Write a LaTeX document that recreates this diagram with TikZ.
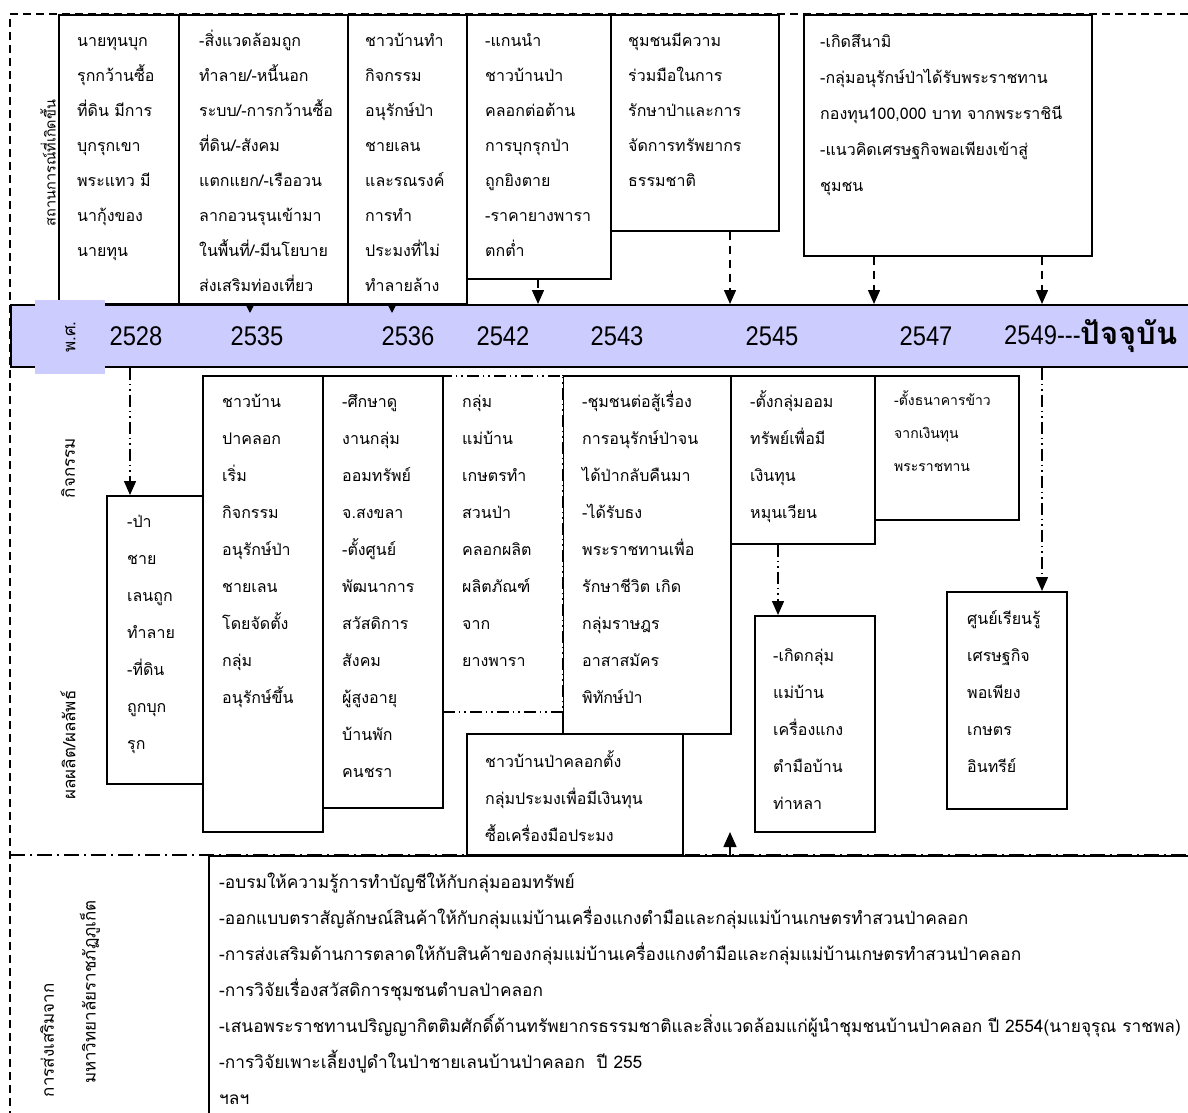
\documentclass[tikz,border=0pt]{standalone}
\usepackage{graphicx}
\usepackage{fontspec}
\setmainfont{Loma}[Script=Thai]
\newfontfamily\numfont{Liberation Sans}
\usetikzlibrary{arrows.meta,calc}
\definecolor{bandc}{RGB}{204,204,255}
\tikzset{
  box/.style={draw, line width=1.6pt, anchor=north west, inner sep=0pt, fill=white},
  ddbox/.style={draw, line width=1.6pt, anchor=north west, inner sep=0pt, fill=white,
     dash pattern=on 12pt off 4pt on 1.5pt off 4pt on 1.5pt off 4pt},
  txt/.style={anchor=north west, inner sep=0pt, align=left, font=\fontsize{16}{35}\selectfont},
  txtw/.style={txt, font=\fontsize{16}{36}\selectfont},
  txtm/.style={txt, font=\fontsize{16}{37}\selectfont},
  txts/.style={txt, font=\fontsize{14}{33}\selectfont},
  txtb/.style={txt, font=\fontsize{17.3}{36}\selectfont},
  lab/.style={rotate=90, inner sep=0pt, font=\fontsize{17}{20}\selectfont},
  labs/.style={lab, font=\fontsize{14.5}{18}\selectfont},
  yr/.style={inner sep=0pt, font=\numfont\fontsize{27}{30}\selectfont},
  frame/.style={line width=1.5pt, dash pattern=on 8pt off 5pt},
  dsharr/.style={line width=1.5pt, dash pattern=on 8pt off 6pt, -{Triangle[length=14pt,width=12pt]}},
  ddarr/.style={line width=1.4pt, dash pattern=on 12pt off 4pt on 1.5pt off 4pt on 1.5pt off 4pt, -{Triangle[length=14pt,width=12pt]}},
  smarr/.style={line width=1.5pt, -{Triangle[length=10pt,width=10pt]}},
  uparr/.style={line width=1.5pt, -{Triangle[length=15pt,width=13pt]}},
  sepline/.style={line width=1.6pt, dash pattern=on 15pt off 5pt on 2pt off 5pt},
}
\begin{document}
\begin{tikzpicture}[x=1pt,y=-1pt]
\useasboundingbox (0,0) rectangle (1188,1113);
\clip (0,0) rectangle (1188,1113);
% outer dashed frame
\coordinate (ftl) at (10,14);
\coordinate (ftr) at (1188,14);
\coordinate (fbl) at (10,1113);
\draw[frame] (ftr) -- (ftl) -- (fbl);

% ---------- top boxes ----------
\node[box, minimum width=120pt, minimum height=289pt] (b1) at (58,14) {};
\node[box, minimum width=169pt, minimum height=289pt] (b2) at (178,14) {};
\node[box, minimum width=119pt, minimum height=289pt] (b3) at (347,14) {};
\node[box, minimum width=144pt, minimum height=264pt] (b4) at (466,14) {};
\node[box, minimum width=168pt, minimum height=216pt] (b5) at (610,14) {};
\node[box, minimum width=288pt, minimum height=241pt] (b6) at (803,14) {};

\node[txt] (t1) at ($(b1.north west)+(19,7.5)$) {\strut นายทุนบุก\\รุกกว้านซื้อ\\ที่ดิน มีการ\\บุกรุกเขา\\พระแทว มี\\นากุ้งของ\\นายทุน};
\node[txt] (t2) at ($(b2.north west)+(21,7.5)$) {\strut -สิ่งแวดล้อมถูก\\ทำลาย/-หนี้นอก\\ระบบ/-การกว้านซื้อ\\ที่ดิน/-สังคม\\แตกแยก/-เรืออวน\\ลากอวนรุนเข้ามา\\ในพื้นที่/-มีนโยบาย\\ส่งเสริมท่องเที่ยว};
\node[txt] (t3) at ($(b3.north west)+(18,7.5)$) {\strut ชาวบ้านทำ\\กิจกรรม\\อนุรักษ์ป่า\\ชายเลน\\และรณรงค์\\การทำ\\ประมงที่ไม่\\ทำลายล้าง};
\node[txt] (t4) at ($(b4.north west)+(19,7.5)$) {\strut -แกนนำ\\ชาวบ้านป่า\\คลอกต่อต้าน\\การบุกรุกป่า\\ถูกยิงตาย\\-ราคายางพารา\\ตกต่ำ};
\node[txt] (t5) at ($(b5.north west)+(18,7.5)$) {\strut ชุมชนมีความ\\ร่วมมือในการ\\รักษาป่าและการ\\จัดการทรัพยากร\\ธรรมชาติ};
\node[txtw] (t6) at ($(b6.north west)+(17,7.8)$) {\strut -เกิดสึนามิ\\-กลุ่มอนุรักษ์ป่าได้รับพระราชทาน\\กองทุน100,000 บาท จากพระราชินี\\-แนวคิดเศรษฐกิจพอเพียงเข้าสู่\\ชุมชน};

\node[labs] (l1) at (48,163) {สถานการณ์ที่เกิดขึ้น};

% ---------- time band ----------
\node[draw, fill=bandc, line width=1.6pt, anchor=north west, inner sep=0pt,
      minimum width=1200pt, minimum height=62pt] (band) at (10,304) {};
\node[fill=bandc, anchor=north west, inner sep=0pt, minimum width=70pt, minimum height=74pt] (patch) at (35,300) {};
\node[lab] (ps) at (patch.center) {พ.ศ.};
\node[yr] (y1) at (136,336) {\scalebox{0.88}[1]{2528}};
\node[yr] (y2) at (257,336) {\scalebox{0.88}[1]{2535}};
\node[yr] (y3) at (408,336) {\scalebox{0.88}[1]{2536}};
\node[yr] (y4) at (503,336) {\scalebox{0.88}[1]{2542}};
\node[yr] (y5) at (617,336) {\scalebox{0.88}[1]{2543}};
\node[yr] (y6) at (772,336) {\scalebox{0.88}[1]{2545}};
\node[yr] (y7) at (926,336) {\scalebox{0.88}[1]{2547}};
\node[yr, anchor=west] (y8) at (1004,336) {\scalebox{0.88}[1]{2549---}{\rmfamily\bfseries\fontsize{31}{34}\selectfont ปัจจุบัน}};

% arrows into band
\coordinate (p1) at (250,313);
\coordinate (p2) at (392,313);
\coordinate (p3) at (538,304);
\coordinate (p4) at (730,304);
\coordinate (p5) at (874,304);
\coordinate (p6) at (1042,304);
\draw[smarr] (b2.south -| p1) -- (p1);
\draw[smarr] (b3.south -| p2) -- (p2);
\draw[dsharr] (b4.south -| p3) -- (p3);
\draw[dsharr] (b5.south -| p4) -- (p4);
\draw[dsharr] (b6.south -| p5) -- (p5);
\draw[dsharr] (b6.south -| p6) -- (p6);

% ---------- middle boxes ----------
\node[box, minimum width=96pt, minimum height=288pt] (b7) at (106,495) {};
\node[box, minimum width=120pt, minimum height=456pt] (b8) at (202,375) {};
\node[box, minimum width=168pt, minimum height=358pt] (b11) at (562,375) {};
\node[ddbox, minimum width=120pt, minimum height=336pt] (b10) at (442,375) {};
\node[box, minimum width=120pt, minimum height=432pt] (b9) at (322,375) {};
\node[box, minimum width=216pt, minimum height=121pt] (b12) at (466,733) {};
\node[box, minimum width=144pt, minimum height=168pt] (b13) at (730,375) {};
\node[box, minimum width=120pt, minimum height=216pt] (b14) at (754,615) {};
\node[box, minimum width=144pt, minimum height=144pt] (b15) at (874,375) {};
\node[box, minimum width=120pt, minimum height=217pt] (b16) at (946,591) {};

\node[txtm] (t7) at ($(b7.north west)+(21,6.1)$) {\strut -ป่า\\ชาย\\เลนถูก\\ทำลาย\\-ที่ดิน\\ถูกบุก\\รุก};
\node[txtm] (t8) at ($(b8.north west)+(20,6.1)$) {\strut ชาวบ้าน\\ปาคลอก\\เริ่ม\\กิจกรรม\\อนุรักษ์ป่า\\ชายเลน\\โดยจัดตั้ง\\กลุ่ม\\อนุรักษ์ขึ้น};
\node[txtm] (t9) at ($(b9.north west)+(20,6.1)$) {\strut -ศึกษาดู\\งานกลุ่ม\\ออมทรัพย์\\จ.สงขลา\\-ตั้งศูนย์\\พัฒนาการ\\สวัสดิการ\\สังคม\\ผู้สูงอายุ\\บ้านพัก\\คนชรา};
\node[txtm] (t10) at ($(b10.north west)+(20,6.1)$) {\strut กลุ่ม\\แม่บ้าน\\เกษตรทำ\\สวนป่า\\คลอกผลิต\\ผลิตภัณฑ์\\จาก\\ยางพารา};
\node[txtm] (t11) at ($(b11.north west)+(20,6.1)$) {\strut -ชุมชนต่อสู้เรื่อง\\การอนุรักษ์ป่าจน\\ได้ป่ากลับคืนมา\\-ได้รับธง\\พระราชทานเพื่อ\\รักษาชีวิต เกิด\\กลุ่มราษฎร\\อาสาสมัคร\\พิทักษ์ป่า};
\node[txtm] (t12) at ($(b12.north west)+(19,8.1)$) {\strut ชาวบ้านป่าคลอกตั้ง\\กลุ่มประมงเพื่อมีเงินทุน\\ซื้อเครื่องมือประมง};
\node[txtm] (t13) at ($(b13.north west)+(20,6.1)$) {\strut -ตั้งกลุ่มออม\\ทรัพย์เพื่อมี\\เงินทุน\\หมุนเวียน};
\node[txtm] (t14) at ($(b14.north west)+(19,20.1)$) {\strut -เกิดกลุ่ม\\แม่บ้าน\\เครื่องแกง\\ตำมือบ้าน\\ท่าหลา};
\node[txts] (t15) at ($(b15.north west)+(20,7.4)$) {\strut -ตั้งธนาคารข้าว\\จากเงินทุน\\พระราชทาน};
\node[txtm] (t16) at ($(b16.north west)+(21,7.1)$) {\strut ศูนย์เรียนรู้\\เศรษฐกิจ\\พอเพียง\\เกษตร\\อินทรีย์};

\node[lab] (l2) at (68,468) {กิจกรรม};
\node[lab] (l3) at (68,745) {ผลผลิต/ผลลัพธ์};

% middle arrows
\coordinate (q1) at (130,495);
\coordinate (q2) at (778,615);
\coordinate (q3) at (1042,591);
\draw[ddarr] (band.south -| q1) -- (q1);
\draw[ddarr] (b13.south -| q2) -- (q2);
\draw[ddarr] (band.south -| q3) -- (q3);

% ---------- bottom section ----------
\node[box, minimum width=1100pt, minimum height=300pt] (bb) at (208,855) {};
\coordinate (s1) at (10,855);
\coordinate (s3) at (1188,855);
\draw[sepline] (s1) -- (s3);
\coordinate (q4) at (730,832);
\draw[uparr] (bb.north -| q4) -- (q4);

\node[txtb] (tb) at ($(bb.north west)+(11,8)$) {\strut -อบรมให้ความรู้การทำบัญชีให้กับกลุ่มออมทรัพย์\\-ออกแบบตราสัญลักษณ์สินค้าให้กับกลุ่มแม่บ้านเครื่องแกงตำมือและกลุ่มแม่บ้านเกษตรทำสวนป่าคลอก\\-การส่งเสริมด้านการตลาดให้กับสินค้าของกลุ่มแม่บ้านเครื่องแกงตำมือและกลุ่มแม่บ้านเกษตรทำสวนป่าคลอก\\-การวิจัยเรื่องสวัสดิการชุมชนตำบลป่าคลอก\\-เสนอพระราชทานปริญญากิตติมศักดิ์ด้านทรัพยากรธรรมชาติและสิ่งแวดล้อมแก่ผู้นำชุมชนบ้านป่าคลอก ปี 2554(นายจุรุณ ราชพล)\\-การวิจัยเพาะเลี้ยงปูดำในป่าชายเลนบ้านป่าคลอก~~ปี 255\\ฯลฯ};

\node[lab, anchor=east] (l4) at (47,983) {การส่งเสริมจาก};
\node[lab, anchor=east] (l5) at (90,900) {มหาวิทยาลัยราชภัฏภูเก็ต};
\end{tikzpicture}
\end{document}
